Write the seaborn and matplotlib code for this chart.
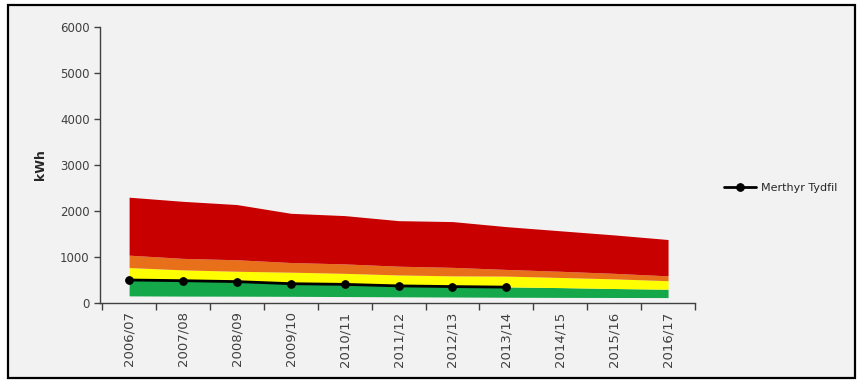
import matplotlib
matplotlib.use("Agg")
import matplotlib.pyplot as plt
from matplotlib.patches import Rectangle
import numpy as np
import pandas as pd
import seaborn as sns

# Financial years on the category axis
years = ["2006/07", "2007/08", "2008/09", "2009/10", "2010/11", "2011/12",
         "2012/13", "2013/14", "2014/15", "2015/16", "2016/17"]

# Band boundaries (kWh), bottom to top
green_low = [155, 150, 148, 145, 140, 135, 130, 125, 122, 120, 118]
green_high = [500, 485, 465, 420, 405, 375, 360, 350, 335, 315, 300]
yellow_high = [770, 720, 690, 670, 645, 610, 590, 585, 555, 525, 485]
orange_high = [1040, 970, 940, 880, 850, 800, 775, 730, 690, 645, 590]
red_high = [2300, 2210, 2140, 1950, 1900, 1790, 1770, 1660, 1570, 1480, 1380]

# Local authority series (kWh)
merthyr = [500, 485, 465, 420, 405, 372, 357, 345]

band_colors = ["#14a84a", "#ffff00", "#e8701a", "#c80000"]

sns.set_theme(style="white")
plt.rcParams["font.family"] = ["DejaVu Sans"]

fig = plt.figure(figsize=(8.62, 3.83), dpi=100, facecolor="white")
fig.patches.append(Rectangle((8 / 862, 5 / 383), 847 / 862, 373 / 383,
                             transform=fig.transFigure, facecolor="#f2f2f2",
                             edgecolor="black", linewidth=1.6, zorder=-10))

ax = fig.add_axes([100 / 862, 80 / 383, 595 / 862, 276 / 383])
ax.set_facecolor("#f2f2f2")
ax.patch.set_alpha(0)

x = np.arange(len(years))
bounds = [green_low, green_high, yellow_high, orange_high, red_high]
for lo, hi, col in zip(bounds[:-1], bounds[1:], band_colors):
    ax.fill_between(x, lo, hi, color=col, linewidth=0, zorder=1)

df = pd.DataFrame({"year": x[:len(merthyr)], "kwh": merthyr})
sns.lineplot(data=df, x="year", y="kwh", ax=ax, color="black", linewidth=2.0,
             marker="o", markersize=5.5, markeredgecolor="black",
             label="Merthyr Tydfil", zorder=3)

ax.set_xlim(-0.54, 10.5)
ax.set_ylim(0, 6000)
ax.set_yticks(range(0, 6001, 1000))
ax.tick_params(axis="y", labelsize=8.5, colors="#404040", length=4, width=1,
               direction="out", left=True)
ax.set_xticks(x)
ax.set_xticklabels(years, rotation=90, fontsize=9.5, color="#404040")
ax.tick_params(axis="x", which="major", length=0, pad=6)
ax.set_xticks(np.arange(-0.5, 10.6, 1.0), minor=True)
ax.tick_params(axis="x", which="minor", length=5, width=1, color="#404040",
               direction="out", bottom=True)
for lab in ax.get_yticklabels():
    lab.set_color("#404040")

ax.set_xlabel("")
ax.set_ylabel("kWh", fontsize=9, fontweight="bold", color="#262626", labelpad=9)

for side in ["top", "right"]:
    ax.spines[side].set_visible(False)
for side in ["left", "bottom"]:
    ax.spines[side].set_color("#404040")
    ax.spines[side].set_linewidth(1)

leg = ax.legend(loc="center left", bbox_to_anchor=(720 / 862, 195 / 383),
                bbox_transform=fig.transFigure, frameon=False, fontsize=8,
                handlelength=2.8, handletextpad=0.5, borderaxespad=0)
for t in leg.get_texts():
    t.set_color("#262626")

fig.savefig("out.png", dpi=100, facecolor=fig.get_facecolor())
